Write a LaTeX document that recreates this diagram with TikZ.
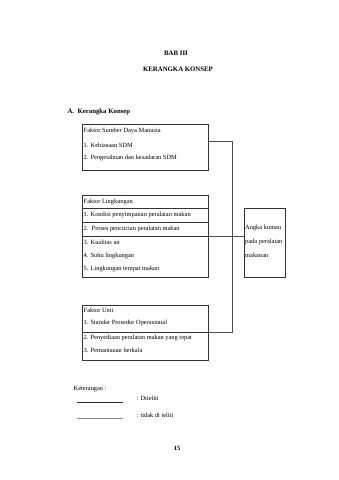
\documentclass[tikz,border=0pt]{standalone}
\usepackage{fontspec}
\setmainfont{Liberation Serif}
\usetikzlibrary{positioning}

\tikzset{
    factorbox/.style={draw=black!80, line width=0.7pt, anchor=north west, inner sep=0pt},
    item/.style={anchor=west, inner sep=0.5pt, font=\fontsize{6.4}{7}\selectfont},
    head/.style={font=\fontsize{6.8}{8}\bfseries},
    wire/.style={draw=black!70, line width=0.6pt}
}

\begin{document}
\begin{tikzpicture}[x=1pt, y=-1pt]

    % Page
    \useasboundingbox (0,0) rectangle (339,480);

    % Headings
    \node[head] (bab) at (176,53) {BAB III};
    \node[head] (judul) at (178,69) {KERANGKA KONSEP};
    \node[head, anchor=west] (subbab) at (64,112) {A.\ \ Kerangka Konsep};

    % Faktor Sumber Daya Manusia
    \node[factorbox, minimum width=126, minimum height=46] (sdm) at (82,124) {};
    \node[item] (sdm0) at (83,131) {Faktor Sumber Daya Manusia};
    \node[item] (sdm1) at (83,145) {1. Kebiasaan SDM};
    \node[item] (sdm2) at (83,158) {2. Pengetahuan dan kesadaran SDM};

    % Faktor Lingkungan
    \node[factorbox, minimum width=126, minimum height=82] (lk) at (82,195) {};
    \draw[factorbox] (82,208) -- (208,208);
    \draw[factorbox] (82,222) -- (208,222);
    \draw[factorbox] (82,236) -- (208,236);
    \node[item] (lk0) at (83,201.5) {Faktor Lingkungan};
    \node[item] (lk1) at (83,215) {1. Kondisi penyimpanan peralatan makan};
    \node[item] (lk2) at (83,228.5) {2.\ \ Proses pencucian peralatan makan};
    \node[item] (lk3) at (83,242) {3. Kualitas air};
    \node[item] (lk4) at (83,255.5) {4. Suhu lingkungan};
    \node[item] (lk5) at (83,269) {5. Lingkungan tempat makan};

    % Faktor Unit
    \node[factorbox, minimum width=126, minimum height=55] (unit) at (82,305) {};
    \draw[factorbox] (82,332) -- (208,332);
    \node[item] (unit0) at (83,310) {Faktor Unit};
    \node[item] (unit1) at (83,322.5) {1. Standar Prosedur Operasional};
    \node[item] (unit2) at (83,338) {2. Penyediaan peralatan makan yang tepat};
    \node[item] (unit3) at (83,350.5) {3. Pemantauan berkala};

    % Angka kuman
    \node[factorbox, minimum width=41, minimum height=69] (angka) at (244,208) {};
    \node[item] (angka1) at (244.5,228) {Angka kuman};
    \node[item] (angka2) at (244.5,242) {pada peralatan};
    \node[item] (angka3) at (244.5,255.5) {makanan};

    % Connectors
    \coordinate (busT) at (232,141);
    \coordinate (busM) at (232,236);
    \coordinate (busB) at (232,332);
    \draw[wire] (sdm.east |- busT) -- (busT) -- (busB) -- (unit.east |- busB);
    \draw[wire] (lk.east |- busM) -- (angka.west |- busM);

    % Keterangan
    \node[item, anchor=west] (ket) at (73,389) {Keterangan :};
    \coordinate (ln1a) at (77,402);
    \coordinate (ln1b) at (123,402);
    \coordinate (ln2a) at (77,418);
    \coordinate (ln2b) at (123,418);
    \draw[black!85, line width=0.8pt] (ln1a) -- (ln1b);
    \draw[black!45, line width=0.6pt] (ln2a) -- (ln2b);
    \node[item] (ket1) at (136,398) {: Diteliti};
    \node[item] (ket2) at (136,415) {: tidak di teliti};

    % Page number
    \node[head, font=\fontsize{6.4}{7}\bfseries] (hal) at (177,448) {15};

\end{tikzpicture}
\end{document}
